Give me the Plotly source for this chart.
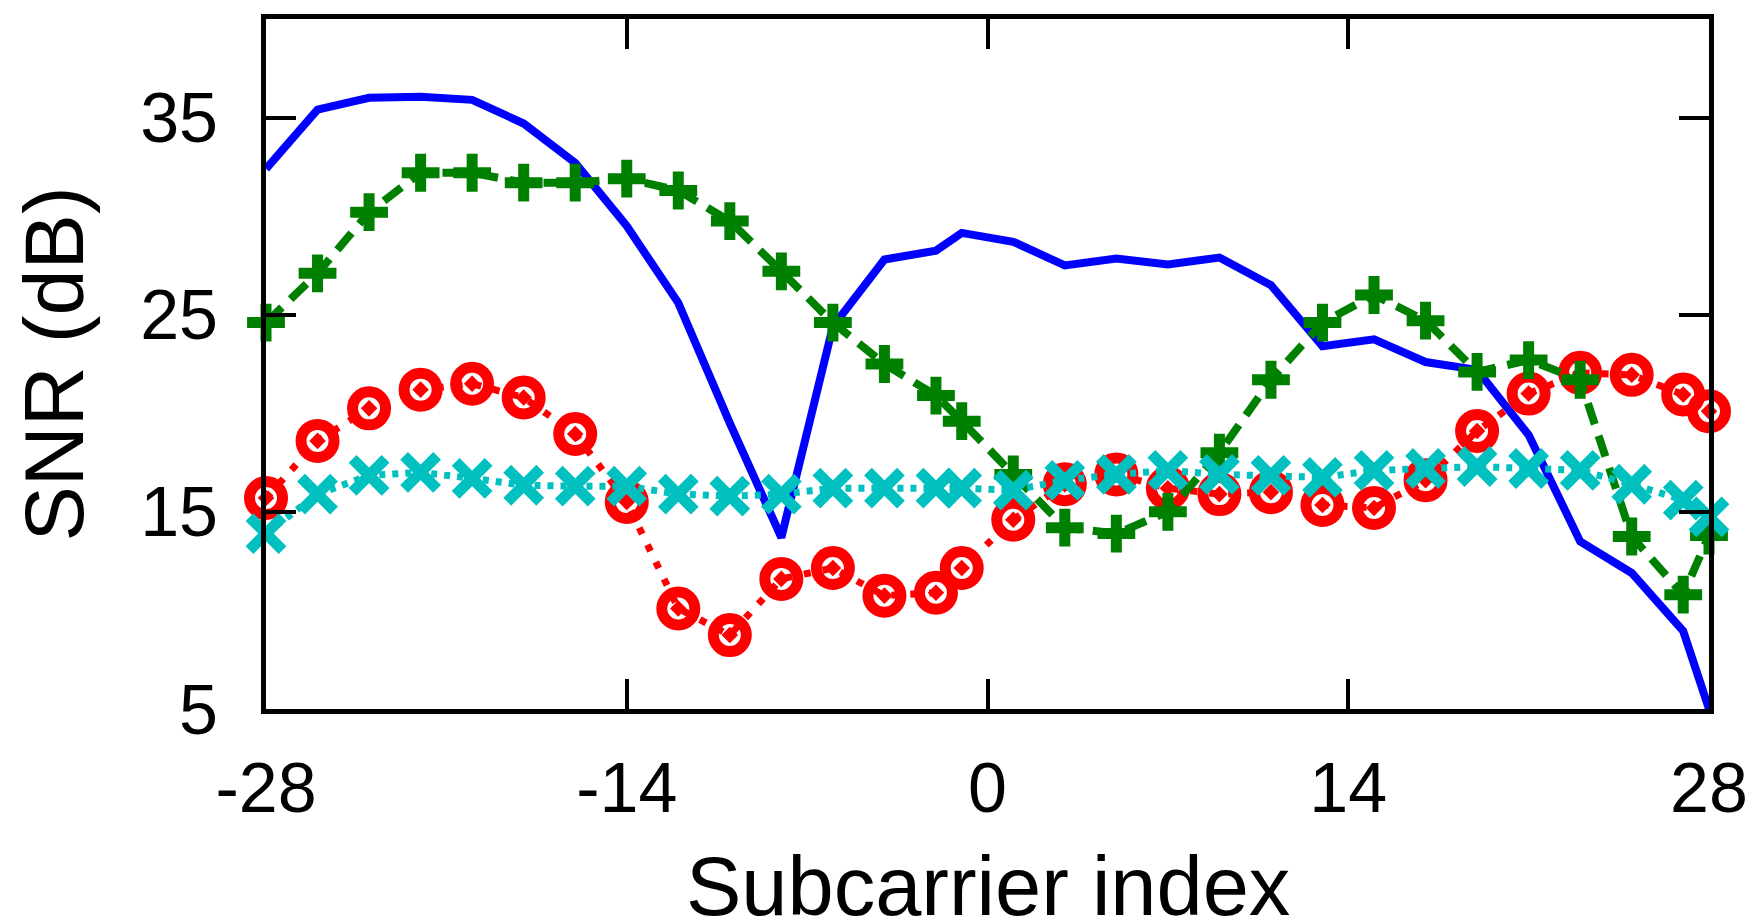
import plotly.graph_objects as go

subcarriers = [-28, -26, -24, -22, -20, -18, -16, -14, -12, -10, -8, -6, -4, -2, -1,
               1, 3, 5, 7, 9, 11, 13, 15, 17, 19, 21, 23, 25, 27, 28]

snr_blue = [32.4, 35.4, 36.0, 36.05, 35.9, 34.7, 32.7, 29.5, 25.6, 19.5, 13.7, 24.4, 27.8, 28.25, 29.15,
            28.7, 27.5, 27.85, 27.55, 27.9, 26.5, 23.4, 23.75, 22.6, 22.2, 18.9, 13.5, 11.9, 8.95, 5.0]

snr_green = [24.6, 27.1, 30.2, 32.2, 32.2, 31.7, 31.7, 31.9, 31.3, 29.75, 27.2, 24.6, 22.5, 20.9, 19.6,
             16.9, 14.2, 13.9, 15.0, 18.0, 21.7, 24.6, 26.0, 24.7, 22.1, 22.7, 21.7, 13.75, 10.8, 13.8]

snr_red = [15.7, 18.6, 20.25, 21.2, 21.5, 20.8, 18.95, 15.5, 10.1, 8.75, 11.6, 12.15, 10.75, 10.9, 12.15,
           14.6, 16.4, 16.9, 16.2, 15.9, 16.0, 15.35, 15.2, 16.6, 19.1, 21.0, 22.05, 21.95, 20.95, 20.1]

snr_cyan = [13.9, 15.9, 16.85, 17.0, 16.7, 16.35, 16.3, 16.3, 15.9, 15.8, 15.9, 16.2, 16.2, 16.2, 16.2,
            16.1, 16.6, 16.9, 17.1, 16.9, 16.85, 16.75, 17.1, 17.2, 17.3, 17.2, 17.1, 16.4, 15.6, 14.75]

x_ticks = [-28, -14, 0, 14, 28]
y_ticks = [5, 15, 25, 35]
x_title = "Subcarrier index"
y_title = "SNR (dB)"

FONT = "Liberation Sans, Arial, Helvetica, sans-serif"

fig = go.Figure()

fig.add_trace(go.Scatter(
    x=subcarriers, y=snr_blue, mode="lines",
    line=dict(color="#0000FF", width=8)))

fig.add_trace(go.Scatter(
    x=subcarriers, y=snr_red, mode="lines+markers",
    line=dict(color="#FF0000", width=7, dash="7px,12px"),
    marker=dict(symbol="circle-open-dot", size=33, color="#FF0000",
                line=dict(color="#FF0000", width=11)),
    cliponaxis=False))

fig.add_trace(go.Scatter(
    x=subcarriers, y=snr_green, mode="lines+markers",
    line=dict(color="#008000", width=8, dash="22px,12px"),
    marker=dict(symbol="cross-thin", size=27, color="#008000",
                line=dict(color="#008000", width=11)),
    cliponaxis=False))

fig.add_trace(go.Scatter(
    x=subcarriers, y=snr_cyan, mode="lines+markers",
    line=dict(color="#00C0C0", width=7, dash="6px,7px"),
    marker=dict(symbol="x-thin", size=33, color="#00C0C0",
                line=dict(color="#00C0C0", width=11)),
    cliponaxis=False))

axis_common = dict(
    showgrid=False, zeroline=False, showline=True, linecolor="black", linewidth=5,
    mirror="ticks", ticks="inside", ticklen=30, tickwidth=4, tickcolor="black",
    tickfont=dict(family=FONT, size=70, color="black"),
    automargin=False,
)

fig.update_xaxes(
    range=[-28, 28], tickvals=x_ticks, ticktext=[str(v) for v in x_ticks],
    ticklabelstandoff=14, **axis_common)

fig.update_yaxes(
    range=[5, 40], tickvals=y_ticks, ticktext=[str(v) for v in y_ticks],
    title=dict(text=y_title, font=dict(family=FONT, size=83, color="black"), standoff=36),
    ticklabelstandoff=29, **axis_common)

# x-axis title as an annotation so it can sit as low as in the reference
fig.add_annotation(
    text=x_title, xref="paper", yref="paper", x=0.5, y=0,
    xanchor="center", yanchor="middle", yshift=-177, showarrow=False,
    font=dict(family=FONT, size=83, color="black"))

# the page body adds an 8px offset; the figure is sized so the plot area lands where the reference has it
fig.update_layout(
    width=1747, height=915,
    margin=dict(l=258, r=46, t=11, b=214),
    plot_bgcolor="white", paper_bgcolor="white",
    showlegend=False,
    font=dict(family=FONT, color="black"),
)

fig.write_html("out.html")
